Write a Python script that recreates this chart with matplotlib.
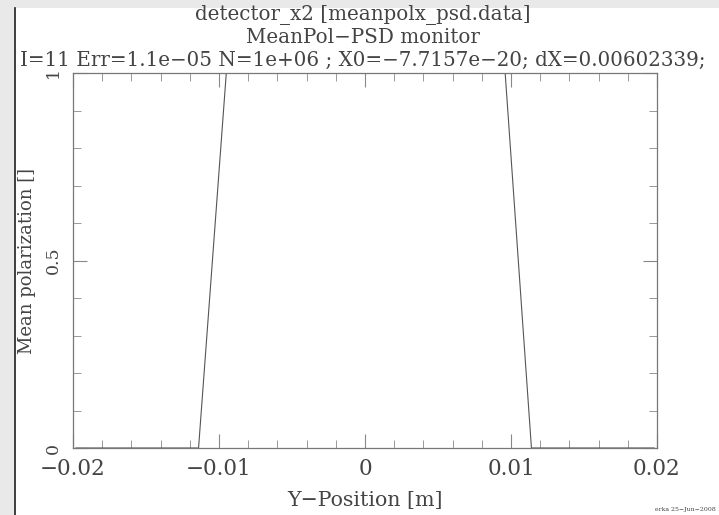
#Mean polarization vs Y-position, PSD monitor
import numpy as np
import matplotlib.pyplot as plt
from matplotlib.ticker import MultipleLocator
from matplotlib.patches import Rectangle
from matplotlib.lines import Line2D

#data
y_pos = [-0.0198, -0.0114, -0.0095, 0.0, 0.0096, 0.0114, 0.0198]
mean_pol = [0.0, 0.0, 1.0, 1.0, 1.0, 0.0, 0.0]
x_ticks = [-0.02, -0.01, 0, 0.01, 0.02]
x_ticklabels = ['\u22120.02', '\u22120.01', '0', '0.01', '0.02']
y_ticks = [0, 0.5, 1]
y_ticklabels = ['0', '0.5', '1']
title_lines = ['detector_x2 [meanpolx_psd.data]',
               'MeanPol\u2212PSD monitor',
               'I=11 Err=1.1e\u221205 N=1e+06 ; X0=\u22127.7157e\u221220; dX=0.00602339;']

plt.rcParams['font.family'] = ['DejaVu Serif']
fig = plt.figure(figsize=(7.19, 5.15), dpi=100)
fig.patch.set_facecolor('#e9e9e9')
#white page with dark left edge
fig.patches.append(Rectangle((16/719, 0), 1, 1 - 8/515, transform=fig.transFigure,
                             facecolor='white', edgecolor='none', zorder=-5))
fig.lines.append(Line2D([15/719, 15/719], [0, 1 - 8/515], transform=fig.transFigure,
                        color='#222222', lw=1.2, zorder=-4))

ax = fig.add_axes([73/719, 1 - 448/515, 584/719, 375/515], zorder=2)
ax.set_facecolor('white')
ax.plot(y_pos, mean_pol, color='#555555', lw=0.8)
ax.set_xlim(-0.02, 0.02)
ax.set_ylim(0, 1)

ax.set_xticks(x_ticks)
ax.set_xticklabels(x_ticklabels)
ax.set_yticks(y_ticks)
ax.set_yticklabels(y_ticklabels, rotation=90, va='center')
ax.xaxis.set_minor_locator(MultipleLocator(0.002))
ax.yaxis.set_minor_locator(MultipleLocator(0.1))
ax.tick_params(which='both', direction='in', top=True, right=True,
               color='#888888', labelcolor='#444444')
ax.tick_params(which='major', length=10, pad=7)
ax.tick_params(which='minor', length=6)
ax.tick_params(axis='x', labelsize=15.5)
ax.tick_params(axis='y', labelsize=12.5, pad=8)
for s in ax.spines.values():
    s.set_color('#777777')
    s.set_linewidth(0.9)

ax.set_xlabel('Y\u2212Position [m]', fontsize=14.8, color='#444444', labelpad=8)
ax.set_ylabel('Mean polarization []', fontsize=13, color='#444444')
ax.yaxis.set_label_coords(-0.064, 0.5)

for i, t in enumerate(title_lines):
    fig.text(0.505, 1 - (15 + 22.5*i)/515, t, ha='center', va='center',
             fontsize=14.3, color='#444444', zorder=5)

fig.text(655/719, 1 - 510/515, 'erka 25\u2212Jun\u22122008 18', fontsize=4.5,
         color='#444444', va='center')

plt.savefig('out.png', dpi=100)
